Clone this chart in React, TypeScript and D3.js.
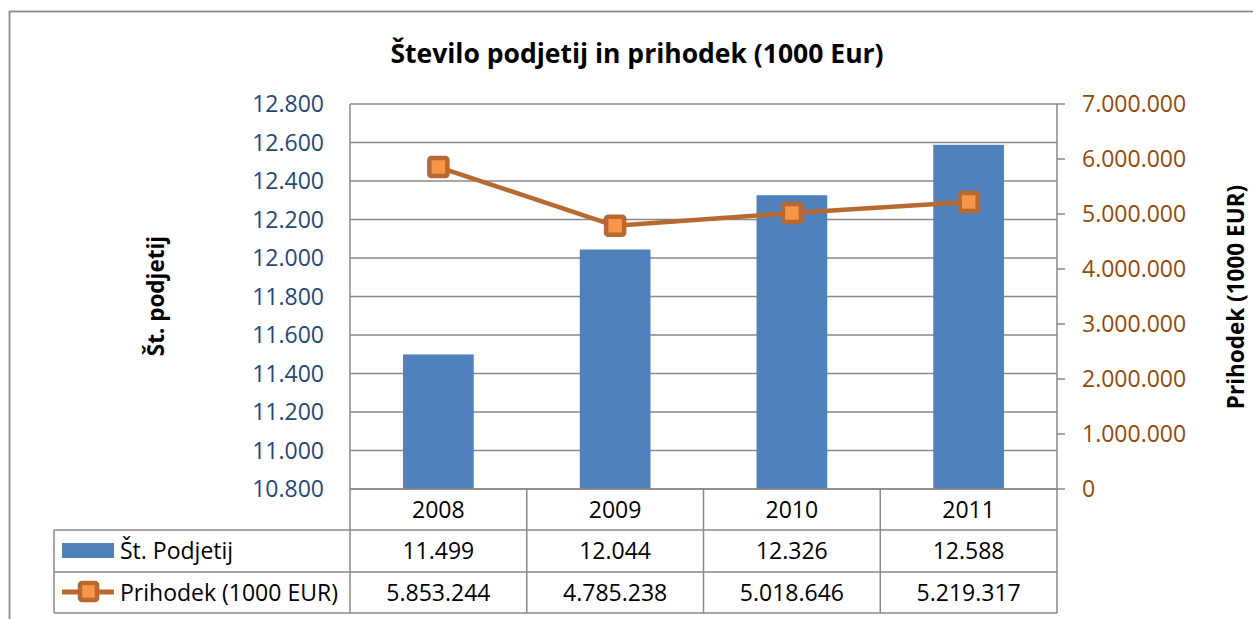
import React from 'react';
import * as d3 from 'd3';

const categories = ['2008', '2009', '2010', '2011'];
const podjetja = [11499, 12044, 12326, 12588];
const prihodek = [5853244, 4785238, 5018646, 5219317];
const leftTicks = [10800, 11000, 11200, 11400, 11600, 11800, 12000, 12200, 12400, 12600, 12800];
const rightTicks = [0, 1000000, 2000000, 3000000, 4000000, 5000000, 6000000, 7000000];
const seriesNames = ['Št. Podjetij', 'Prihodek (1000 EUR)'];
const title = 'Število podjetij in prihodek (1000 Eur)';
const leftTitle = 'Št. podjetij';
const rightTitle = 'Prihodek (1000 EUR)';

const W = 1253;
const H = 619;
const plot = { left: 350, right: 1057, top: 104, bottom: 489 };
const rowY = [489, 530, 572, 613];
const tableLeft = 54;
const FONT = '"Open Sans", "Noto Sans", sans-serif';
const GRID = '#898989';
const BAR = '#4F81BD';
const LINE = '#B8692F';
const MARK = '#F79646';

const loc = d3.formatLocale({ decimal: ',', thousands: '.', grouping: [3], currency: ['', ''] });
const fmt = loc.format(',d');

export default function App() {
  const yL = d3.scaleLinear().domain([10800, 12800]).range([plot.bottom, plot.top]);
  const yR = d3.scaleLinear().domain([0, 7000000]).range([plot.bottom, plot.top]);
  const xBar = d3.scaleBand().domain(categories).range([plot.left, plot.right]).paddingInner(0.6).paddingOuter(0.3);
  const xCol = d3.scaleBand().domain(categories).range([plot.left, plot.right]).padding(0);
  const cx = (c: string) => (xCol(c) as number) + xCol.bandwidth() / 2;
  const line = d3.line<number>().x((_, i) => cx(categories[i])).y((v) => yR(v));
  const markSize = 18;

  return (
    <svg width={W} height={H} style={{ position: 'absolute', left: 0, top: 0, background: '#fff' }} fontFamily={FONT}>
      <rect x={0} y={0} width={W} height={H} fill="#fff" />
      <rect x={9.5} y={11.5} width={W + 20} height={H + 20} fill="none" stroke="#8c8c8c" strokeWidth={1.8} />
      <text x={637} y={63} textAnchor="middle" fontWeight="bold" fontSize={26.5} fill="#000">{title}</text>

      {/* gridlines */}
      {leftTicks.map((t) => (
        <line key={'g' + t} x1={plot.left} x2={plot.right} y1={yL(t)} y2={yL(t)} stroke={GRID} strokeWidth={1.5} />
      ))}

      {/* bars */}
      {categories.map((c, i) => (
        <rect key={'b' + c} x={xBar(c)} y={yL(podjetja[i])} width={xBar.bandwidth()} height={plot.bottom - yL(podjetja[i])} fill={BAR} />
      ))}

      {/* axes */}
      <line x1={plot.left} x2={plot.left} y1={plot.top} y2={rowY[3]} stroke={GRID} strokeWidth={1.5} />
      <line x1={plot.right} x2={plot.right} y1={plot.top} y2={rowY[3]} stroke={GRID} strokeWidth={1.5} />
      {rightTicks.map((t) => (
        <line key={'rt' + t} x1={plot.right} x2={plot.right + 8} y1={yR(t)} y2={yR(t)} stroke={GRID} strokeWidth={1.5} />
      ))}
      {leftTicks.map((t) => (
        <text key={'lt' + t} x={324} y={yL(t)} dy="0.36em" textAnchor="end" fontSize={23} fill="#1F497D">{fmt(t)}</text>
      ))}
      {rightTicks.map((t) => (
        <text key={'rl' + t} x={1082} y={yR(t)} dy="0.36em" textAnchor="start" fontSize={23} fill="#984807">{fmt(t)}</text>
      ))}
      <text transform={`translate(164,296) rotate(-90)`} textAnchor="middle" fontWeight="bold" fontSize={22.5} fill="#000">{leftTitle}</text>
      <text transform={`translate(1244,297) rotate(-90)`} textAnchor="middle" fontWeight="bold" fontSize={22.5} fill="#000">{rightTitle}</text>

      {/* line series */}
      <path d={line(prihodek) as string} fill="none" stroke={LINE} strokeWidth={4.5} strokeLinejoin="round" />
      {categories.map((c, i) => (
        <rect key={'m' + c} x={cx(c) - markSize / 2} y={yR(prihodek[i]) - markSize / 2} width={markSize} height={markSize} rx={2}
          fill={MARK} stroke={LINE} strokeWidth={4.5} />
      ))}

      {/* data table */}
      {rowY.map((y, i) => (
        <line key={'h' + i} x1={i === 0 ? plot.left : tableLeft} x2={plot.right} y1={y} y2={y} stroke={GRID} strokeWidth={1.5} />
      ))}
      <line x1={tableLeft} x2={tableLeft} y1={rowY[1]} y2={rowY[3]} stroke={GRID} strokeWidth={1.5} />
      {categories.slice(1).map((c) => (
        <line key={'v' + c} x1={xCol(c)} x2={xCol(c)} y1={rowY[0]} y2={rowY[3]} stroke={GRID} strokeWidth={1.5} />
      ))}
      {categories.map((c, i) => (
        <g key={'t' + c}>
          <text x={cx(c)} y={(rowY[0] + rowY[1]) / 2} dy="0.36em" textAnchor="middle" fontSize={23} fill="#000">{c}</text>
          <text x={cx(c)} y={(rowY[1] + rowY[2]) / 2} dy="0.36em" textAnchor="middle" fontSize={23} fill="#000">{fmt(podjetja[i])}</text>
          <text x={cx(c)} y={(rowY[2] + rowY[3]) / 2} dy="0.36em" textAnchor="middle" fontSize={23} fill="#000">{fmt(prihodek[i])}</text>
        </g>
      ))}
      {/* legend keys */}
      <rect x={62} y={543} width={52} height={15} fill={BAR} />
      <line x1={62} x2={114} y1={592} y2={592} stroke={LINE} strokeWidth={5} />
      <rect x={80} y={583} width={17} height={17} rx={2} fill={MARK} stroke={LINE} strokeWidth={4.5} />
      <text x={120} y={(rowY[1] + rowY[2]) / 2} dy="0.36em" fontSize={23} fill="#000">{seriesNames[0]}</text>
      <text x={120} y={(rowY[2] + rowY[3]) / 2} dy="0.36em" fontSize={23} fill="#000">{seriesNames[1]}</text>
    </svg>
  );
}
